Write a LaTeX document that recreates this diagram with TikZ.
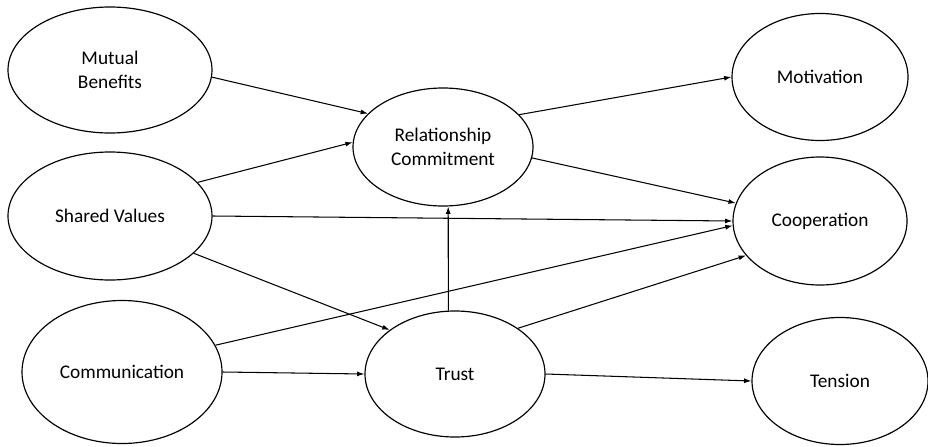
\documentclass[tikz,border=0pt]{standalone}
\usepackage{fontspec}
\setmainfont{Carlito}
\usetikzlibrary{shapes.geometric, arrows.meta}

\tikzset{
  factor/.style = {ellipse, draw, line width = 1pt, inner sep = 0pt, align = center, font = \fontsize{16.5}{20}\selectfont},
  link/.style = {line width = 0.9pt, -{Latex[length = 2.2mm, width = 1.5mm]}}
}

\begin{document}
\begin{tikzpicture}
        \useasboundingbox (0, 0) rectangle (27.84, 13.38);

        \node[factor, minimum width = 6.12cm, minimum height = 3.78cm] (mutual) at (3.30, 11.28) {Mutual\\Benefits};
        \node[factor, minimum width = 6.12cm, minimum height = 3.84cm] (shared) at (3.30, 6.90) {Shared Values};
        \node[factor, minimum width = 6.0cm, minimum height = 4.29cm] (comm) at (3.66, 2.22) {Communication};
        \node[factor, minimum width = 5.4cm, minimum height = 3.54cm] (commit) at (13.29, 8.97) {Relationship\\Commitment};
        \node[factor, minimum width = 5.4cm, minimum height = 3.78cm] (trust) at (13.65, 2.16) {Trust};
        \node[factor, minimum width = 5.28cm, minimum height = 3.81cm] (motiv) at (24.6, 11.07) {Motivation};
        \node[factor, minimum width = 5.22cm, minimum height = 3.84cm] (coop) at (24.6, 6.75) {Cooperation};
        \node[factor, minimum width = 5.28cm, minimum height = 3.81cm] (tension) at (25.2, 1.95) {Tension};

        \draw (mutual.-4) edge[link] (commit.156);
        \draw (shared.21) edge[link] (commit.177);
        \draw (shared.east) edge[link] (coop.west);
        \draw (shared.-24) edge[link] (trust.146);
        \draw (comm.16.5) edge[link] (coop.183);
        \draw (comm.east) edge[link] (trust.west);
        \draw (trust.96) edge[link] (commit.275);
        \draw (trust.36) edge[link] (coop.205.6);
        \draw (trust.east) edge[link] (tension.west);
        \draw (commit.23) edge[link] (motiv.west);
        \draw (commit.-7) edge[link] (coop.168.6);
\end{tikzpicture}
\end{document}
